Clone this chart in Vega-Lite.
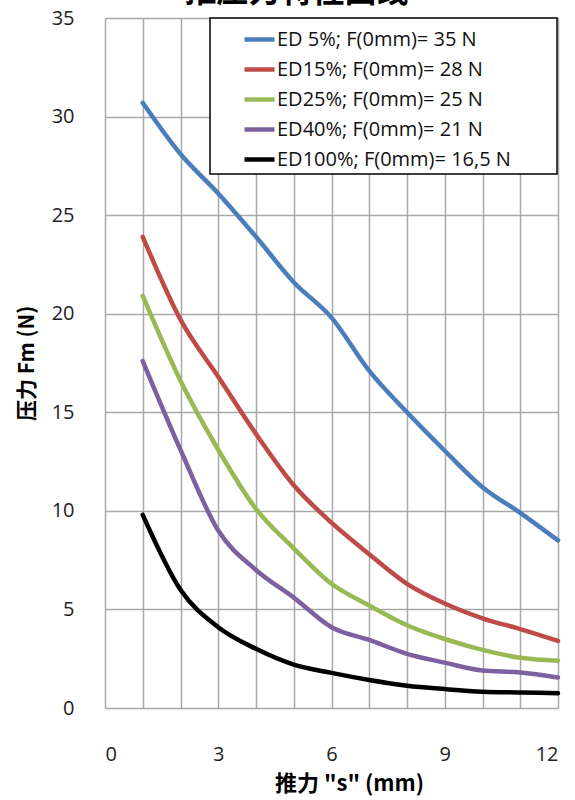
{
  "$schema": "https://vega.github.io/schema/vega-lite/v6.json",
  "autosize": {"type": "none"},
  "padding": {"left": 105, "top": 18, "right": 17, "bottom": 92},
  "width": 453,
  "height": 690,
  "background": "white",
  "title": {
    "text": "推压力特性曲线",
    "font": "Noto Sans CJK SC",
    "fontSize": 32,
    "fontWeight": "bold",
    "color": "#000000",
    "anchor": "middle",
    "baseline": "alphabetic",
    "offset": 0,
    "dx": -35,
    "dy": 26
  },
  "config": {
    "view": {"stroke": null},
    "font": "Open Sans"
  },
  "data": {
    "values": [
      {"s": 1, "F": 30.7, "series": "ED 5%; F(0mm)= 35 N"},
      {"s": 2, "F": 28.1, "series": "ED 5%; F(0mm)= 35 N"},
      {"s": 3, "F": 26.1, "series": "ED 5%; F(0mm)= 35 N"},
      {"s": 4, "F": 23.9, "series": "ED 5%; F(0mm)= 35 N"},
      {"s": 5, "F": 21.6, "series": "ED 5%; F(0mm)= 35 N"},
      {"s": 6, "F": 19.8, "series": "ED 5%; F(0mm)= 35 N"},
      {"s": 7, "F": 17.1, "series": "ED 5%; F(0mm)= 35 N"},
      {"s": 8, "F": 15.0, "series": "ED 5%; F(0mm)= 35 N"},
      {"s": 9, "F": 13.05, "series": "ED 5%; F(0mm)= 35 N"},
      {"s": 10, "F": 11.2, "series": "ED 5%; F(0mm)= 35 N"},
      {"s": 11, "F": 9.9, "series": "ED 5%; F(0mm)= 35 N"},
      {"s": 12, "F": 8.5, "series": "ED 5%; F(0mm)= 35 N"},
      {"s": 1, "F": 23.9, "series": "ED15%; F(0mm)= 28 N"},
      {"s": 2, "F": 19.7, "series": "ED15%; F(0mm)= 28 N"},
      {"s": 3, "F": 16.8, "series": "ED15%; F(0mm)= 28 N"},
      {"s": 4, "F": 13.9, "series": "ED15%; F(0mm)= 28 N"},
      {"s": 5, "F": 11.3, "series": "ED15%; F(0mm)= 28 N"},
      {"s": 6, "F": 9.4, "series": "ED15%; F(0mm)= 28 N"},
      {"s": 7, "F": 7.8, "series": "ED15%; F(0mm)= 28 N"},
      {"s": 8, "F": 6.3, "series": "ED15%; F(0mm)= 28 N"},
      {"s": 9, "F": 5.3, "series": "ED15%; F(0mm)= 28 N"},
      {"s": 10, "F": 4.55, "series": "ED15%; F(0mm)= 28 N"},
      {"s": 11, "F": 4.0, "series": "ED15%; F(0mm)= 28 N"},
      {"s": 12, "F": 3.4, "series": "ED15%; F(0mm)= 28 N"},
      {"s": 1, "F": 20.9, "series": "ED25%; F(0mm)= 25 N"},
      {"s": 2, "F": 16.6, "series": "ED25%; F(0mm)= 25 N"},
      {"s": 3, "F": 13.1, "series": "ED25%; F(0mm)= 25 N"},
      {"s": 4, "F": 10.1, "series": "ED25%; F(0mm)= 25 N"},
      {"s": 5, "F": 8.1, "series": "ED25%; F(0mm)= 25 N"},
      {"s": 6, "F": 6.3, "series": "ED25%; F(0mm)= 25 N"},
      {"s": 7, "F": 5.2, "series": "ED25%; F(0mm)= 25 N"},
      {"s": 8, "F": 4.2, "series": "ED25%; F(0mm)= 25 N"},
      {"s": 9, "F": 3.5, "series": "ED25%; F(0mm)= 25 N"},
      {"s": 10, "F": 2.95, "series": "ED25%; F(0mm)= 25 N"},
      {"s": 11, "F": 2.55, "series": "ED25%; F(0mm)= 25 N"},
      {"s": 12, "F": 2.4, "series": "ED25%; F(0mm)= 25 N"},
      {"s": 1, "F": 17.6, "series": "ED40%; F(0mm)= 21 N"},
      {"s": 2, "F": 13.1, "series": "ED40%; F(0mm)= 21 N"},
      {"s": 3, "F": 9.0, "series": "ED40%; F(0mm)= 21 N"},
      {"s": 4, "F": 7.0, "series": "ED40%; F(0mm)= 21 N"},
      {"s": 5, "F": 5.6, "series": "ED40%; F(0mm)= 21 N"},
      {"s": 6, "F": 4.1, "series": "ED40%; F(0mm)= 21 N"},
      {"s": 7, "F": 3.45, "series": "ED40%; F(0mm)= 21 N"},
      {"s": 8, "F": 2.75, "series": "ED40%; F(0mm)= 21 N"},
      {"s": 9, "F": 2.3, "series": "ED40%; F(0mm)= 21 N"},
      {"s": 10, "F": 1.9, "series": "ED40%; F(0mm)= 21 N"},
      {"s": 11, "F": 1.8, "series": "ED40%; F(0mm)= 21 N"},
      {"s": 12, "F": 1.55, "series": "ED40%; F(0mm)= 21 N"},
      {"s": 1, "F": 9.8, "series": "ED100%; F(0mm)= 16,5 N"},
      {"s": 2, "F": 6.0, "series": "ED100%; F(0mm)= 16,5 N"},
      {"s": 3, "F": 4.1, "series": "ED100%; F(0mm)= 16,5 N"},
      {"s": 4, "F": 3.0, "series": "ED100%; F(0mm)= 16,5 N"},
      {"s": 5, "F": 2.2, "series": "ED100%; F(0mm)= 16,5 N"},
      {"s": 6, "F": 1.78, "series": "ED100%; F(0mm)= 16,5 N"},
      {"s": 7, "F": 1.42, "series": "ED100%; F(0mm)= 16,5 N"},
      {"s": 8, "F": 1.13, "series": "ED100%; F(0mm)= 16,5 N"},
      {"s": 9, "F": 0.96, "series": "ED100%; F(0mm)= 16,5 N"},
      {"s": 10, "F": 0.83, "series": "ED100%; F(0mm)= 16,5 N"},
      {"s": 11, "F": 0.79, "series": "ED100%; F(0mm)= 16,5 N"},
      {"s": 12, "F": 0.75, "series": "ED100%; F(0mm)= 16,5 N"}
    ]
  },
  "mark": {"type": "line", "interpolate": "monotone", "strokeWidth": 4.5, "strokeCap": "round"},
  "encoding": {
    "x": {
      "field": "s",
      "type": "quantitative",
      "scale": {"domain": [0, 12], "nice": false},
      "axis": {
        "values": [0, 1, 2, 3, 4, 5, 6, 7, 8, 9, 10, 11, 12],
        "labelExpr": "datum.value % 3 === 0 ? datum.label : ''",
        "labelOverlap": false,
        "domain": false,
        "ticks": false,
        "grid": true,
        "gridColor": "#A8A8A8",
        "gridWidth": 1.5,
        "labelFont": "Open Sans",
        "labelFontSize": 20,
        "labelColor": "#222222",
        "labelPadding": 36,
        "title": "推力  \"s\" (mm)",
        "titleFont": "Noto Sans CJK SC",
        "titleFontSize": 22,
        "titleFontWeight": "bold",
        "titleColor": "#000000",
        "titlePadding": 9,
        "titleX": 244
      }
    },
    "y": {
      "field": "F",
      "type": "quantitative",
      "scale": {"domain": [0, 35], "nice": false},
      "axis": {
        "values": [0, 5, 10, 15, 20, 25, 30, 35],
        "domain": false,
        "ticks": false,
        "grid": true,
        "gridColor": "#A8A8A8",
        "gridWidth": 1.5,
        "labelFont": "Open Sans",
        "labelFontSize": 20,
        "labelColor": "#222222",
        "labelPadding": 31,
        "title": "压力  Fm (N)",
        "titleFont": "Noto Sans CJK SC",
        "titleFontSize": 21,
        "titleFontWeight": "bold",
        "titleColor": "#000000",
        "titlePadding": 14
      }
    },
    "color": {
      "field": "series",
      "type": "nominal",
      "sort": null,
      "scale": {
        "domain": ["ED 5%; F(0mm)= 35 N", "ED15%; F(0mm)= 28 N", "ED25%; F(0mm)= 25 N", "ED40%; F(0mm)= 21 N", "ED100%; F(0mm)= 16,5 N"],
        "range": ["#4A7EBB", "#BE4B48", "#98B954", "#7D60A0", "#000000"]
      },
      "legend": {
        "orient": "none",
        "legendX": 105,
        "legendY": 0,
        "title": " ",
        "titleOrient": "right",
        "titlePadding": 42,
        "padding": 4,
        "rowPadding": 2,
        "symbolType": "stroke",
        "symbolSize": 900,
        "symbolStrokeWidth": 4.5,
        "symbolOffset": 28,
        "labelOffset": 0,
        "labelFont": "Open Sans",
        "labelFontSize": 20,
        "labelColor": "#111111",
        "labelLimit": 400,
        "strokeColor": "#000000",
        "fillColor": "white",
        "encode": {"legend": {"update": {"strokeWidth": {"value": 1.5}}}}
      }
    }
  }
}
